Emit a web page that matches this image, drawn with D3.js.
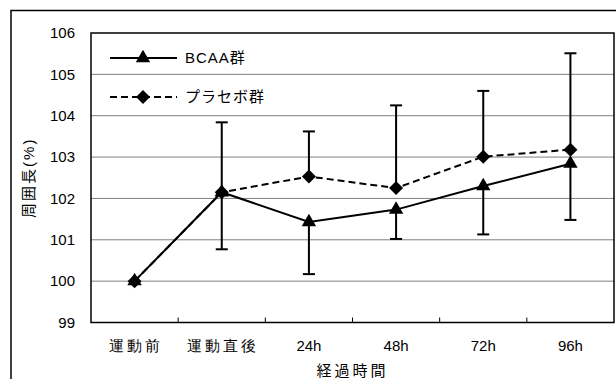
<!DOCTYPE html>
<html>
<head>
<meta charset="utf-8">
<script src="https://cdn.jsdelivr.net/npm/d3@7"></script>
<style>
  html, body { margin: 0; padding: 0; background: #fff; }
  svg { display: block; font-family: "Liberation Sans", Arial, "Noto Sans CJK JP", sans-serif; }
</style>
</head>
<body>
<svg id="chart" width="616" height="379"></svg>
<script>
// Time points after exercise
const categories = ["運動前", "運動直後", "24h", "48h", "72h", "96h"];
// Circumference (% of pre-exercise) per group
const bcaaValues    = [100, 102.15, 101.43, 101.73, 102.30, 102.84];
const placeboValues = [100, 102.15, 102.53, 102.25, 103.01, 103.18];
// Error bars: BCAA drawn downward, placebo upward
const bcaaErrLow    = [0, 1.38, 1.26, 0.71, 1.17, 1.36];
const placeboErrUp  = [0, 1.69, 1.09, 2.00, 1.59, 2.33];
const yTicks = [99, 100, 101, 102, 103, 104, 105, 106];
const seriesNames = ["BCAA群", "プラセボ群"];
const xTitle = "経過時間";
const yTitle = "周囲長(%)";

const svg = d3.select("#chart");
const plot = { left: 91, top: 33, right: 614, bottom: 322.5 };
const FS = 15;

// Outer frame
svg.append("path")
  .attr("d", "M11,379 V10.5 H616")
  .attr("fill", "none").attr("stroke", "#000").attr("stroke-width", 1.5);

const x = d3.scaleBand().domain(categories).range([plot.left, plot.right]);
const y = d3.scaleLinear().domain([99, 106]).range([plot.bottom, plot.top]);
const cx = d => x(d) + x.bandwidth() / 2;

// Gridlines
svg.append("g").selectAll("line").data(yTicks.slice(1, -1)).join("line")
  .attr("x1", plot.left).attr("x2", plot.right)
  .attr("y1", d => y(d)).attr("y2", d => y(d))
  .attr("stroke", "#808080").attr("stroke-width", 1);

// Y axis labels
const yAxis = svg.append("g").attr("transform", `translate(${plot.left},0)`)
  .call(d3.axisLeft(y).tickValues(yTicks).tickFormat(d3.format("d")).tickSize(0).tickPadding(16));
yAxis.select(".domain").remove();
yAxis.selectAll("text").attr("font-size", FS).attr("fill", "#000")
  .attr("font-family", "'Liberation Sans', Arial, sans-serif");

// X axis with inward ticks between categories
const xAxis = svg.append("g").attr("transform", `translate(0,${plot.bottom})`)
  .call(d3.axisBottom(x).tickSize(0));
xAxis.select(".domain").remove();
xAxis.selectAll("text").attr("font-size", FS).attr("fill", "#000")
  .attr("y", 23).attr("dy", "0.35em")
  .attr("letter-spacing", d => /^[0-9]/.test(d) ? 0 : 3)
  .attr("dx", d => /^[0-9]/.test(d) ? 0 : 1.5);
svg.append("g").selectAll("line").data(categories.slice(1)).join("line")
  .attr("x1", d => x(d)).attr("x2", d => x(d))
  .attr("y1", plot.bottom).attr("y2", plot.bottom - 5)
  .attr("stroke", "#000").attr("stroke-width", 1);

// Plot border
svg.append("rect")
  .attr("x", plot.left).attr("y", plot.top)
  .attr("width", plot.right - plot.left).attr("height", plot.bottom - plot.top)
  .attr("fill", "none").attr("stroke", "#000").attr("stroke-width", 1.5);

// Error bars
function errorBars(vals, errs, sign) {
  const g = svg.append("g").attr("stroke", "#000").attr("stroke-width", 2);
  categories.forEach((c, i) => {
    if (!errs[i]) return;
    const yEnd = y(vals[i] + sign * errs[i]);
    g.append("line").attr("x1", cx(c)).attr("x2", cx(c))
      .attr("y1", y(vals[i])).attr("y2", yEnd);
    g.append("line").attr("x1", cx(c) - 6).attr("x2", cx(c) + 6)
      .attr("y1", yEnd).attr("y2", yEnd);
  });
}
errorBars(placeboValues, placeboErrUp, 1);
errorBars(bcaaValues, bcaaErrLow, -1);

const line = d3.line().x((d, i) => cx(categories[i])).y(d => y(d));

// Placebo series (dashed, diamonds)
svg.append("path").datum(placeboValues).attr("d", line)
  .attr("fill", "none").attr("stroke", "#000").attr("stroke-width", 2)
  .attr("stroke-dasharray", "7,4");
// BCAA series (solid, triangles)
svg.append("path").datum(bcaaValues).attr("d", line)
  .attr("fill", "none").attr("stroke", "#000").attr("stroke-width", 2);

const diamond = d3.symbol().type(d3.symbolSquare).size(98);
const triangle = d3.symbol().type(d3.symbolTriangle).size(90);

svg.append("g").selectAll("path").data(placeboValues).join("path")
  .attr("d", diamond)
  .attr("transform", (d, i) => `translate(${cx(categories[i])},${y(d)}) rotate(45)`)
  .attr("fill", "#000");
svg.append("g").selectAll("path").data(bcaaValues).join("path")
  .attr("d", triangle)
  .attr("transform", (d, i) => `translate(${cx(categories[i])},${y(d)})`)
  .attr("fill", "#000");

// Legend
const leg = svg.append("g");
leg.append("line").attr("x1", 110).attr("x2", 177).attr("y1", 58).attr("y2", 58)
  .attr("stroke", "#000").attr("stroke-width", 2);
leg.append("path").attr("d", triangle).attr("transform", "translate(143,58)");
leg.append("text").attr("x", 185).attr("y", 58).attr("dy", "0.35em")
  .attr("font-size", FS).attr("letter-spacing", 1).text(seriesNames[0]);
leg.append("line").attr("x1", 110).attr("x2", 177).attr("y1", 97).attr("y2", 97)
  .attr("stroke", "#000").attr("stroke-width", 2).attr("stroke-dasharray", "7,4");
leg.append("path").attr("d", diamond).attr("transform", "translate(143,97) rotate(45)");
leg.append("text").attr("x", 185).attr("y", 97).attr("dy", "0.35em")
  .attr("font-size", FS).attr("letter-spacing", 1).text(seriesNames[1]);

// Axis titles
svg.append("text").attr("x", (plot.left + plot.right) / 2).attr("y", 371)
  .attr("dy", "0.35em").attr("text-anchor", "middle").attr("font-size", FS)
  .attr("letter-spacing", 3).text(xTitle);
svg.append("text")
  .attr("transform", `translate(29,${(plot.top + plot.bottom) / 2}) rotate(-90)`)
  .attr("dy", "0.35em").attr("text-anchor", "middle").attr("font-size", FS)
  .attr("letter-spacing", 2).text(yTitle);
</script>
</body>
</html>
